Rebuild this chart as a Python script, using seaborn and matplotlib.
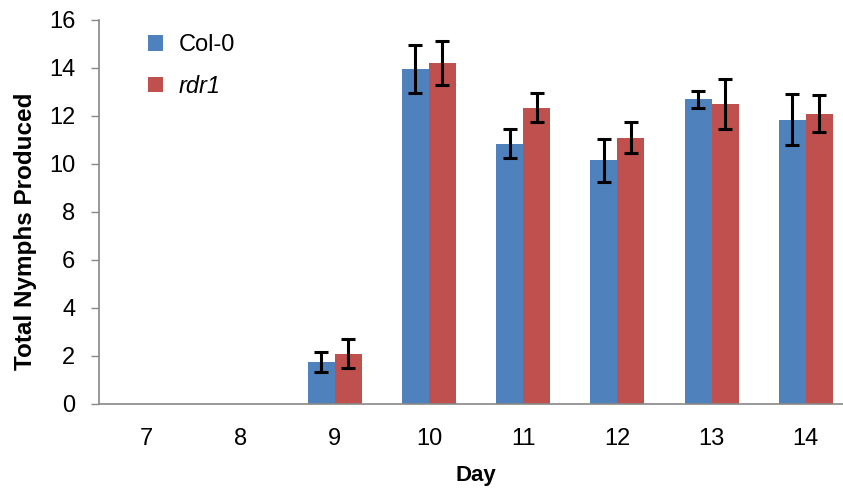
import matplotlib
matplotlib.use("Agg")
import matplotlib.pyplot as plt
import seaborn as sns
import pandas as pd
import numpy as np

days = ["7", "8", "9", "10", "11", "12", "13", "14"]
col0_mean = [0, 0, 1.75, 13.95, 10.85, 10.15, 12.7, 11.85]
col0_err = [0, 0, 0.42, 1.0, 0.6, 0.9, 0.35, 1.05]
rdr1_mean = [0, 0, 2.1, 14.2, 12.35, 11.1, 12.5, 12.1]
rdr1_err = [0, 0, 0.6, 0.92, 0.62, 0.65, 1.05, 0.78]
genotypes = ["Col-0", "rdr1"]
colors = ["#4F81BD", "#C0504D"]

df = pd.DataFrame({
    "Day": days * 2,
    "Nymphs": col0_mean + rdr1_mean,
    "Genotype": ["Col-0"] * len(days) + ["rdr1"] * len(days),
})

sns.set_style("white")
plt.rcParams["font.family"] = ["Liberation Sans", "DejaVu Sans"]
plt.rcParams["text.color"] = "black"
plt.rcParams["axes.labelcolor"] = "black"
plt.rcParams["xtick.color"] = "black"
plt.rcParams["ytick.color"] = "black"

fig = plt.figure(figsize=(8.43, 4.88), dpi=100)
# axis runs a little past the right edge, like the cropped original
ax = fig.add_axes([99 / 843, 84 / 488, 754 / 843, 384 / 488])

sns.barplot(data=df, x="Day", y="Nymphs", hue="Genotype", order=days,
            hue_order=genotypes, palette=colors, saturation=1, width=0.573,
            errorbar=None, linewidth=0, ax=ax)

# error bars on each bar, positioned from the drawn patches
for cont, errs in zip(ax.containers, [col0_err, rdr1_err]):
    xs = [p.get_x() + p.get_width() / 2 for p in cont.patches]
    hs = [p.get_height() for p in cont.patches]
    e = [v if h > 0 else np.nan for v, h in zip(errs, hs)]
    ax.errorbar(xs, hs, yerr=e, fmt="none", ecolor="black", elinewidth=2.2,
                capsize=5, capthick=2.2)

ax.set_ylim(0, 16)
ax.set_xlim(-0.5, 7.5)
ax.set_yticks(range(0, 17, 2))
ax.set_xticks(range(len(days)))
ax.set_xticks(np.arange(-0.5, 8, 1), minor=True)
ax.tick_params(axis="x", which="major", length=0, labelsize=17, pad=17)
ax.tick_params(axis="x", which="minor", length=7, color="#888888", width=1)
ax.tick_params(axis="y", length=6, color="#888888", width=1, labelsize=17,
               left=True, pad=11)

for s in ["top", "right"]:
    ax.spines[s].set_visible(False)
for s in ["left", "bottom"]:
    ax.spines[s].set_color("#888888")
    ax.spines[s].set_linewidth(1.2)

ax.set_xlabel("Day", fontsize=16, fontweight="bold", labelpad=11)
ax.set_ylabel("Total Nymphs Produced", fontsize=17.5, fontweight="bold")
ax.yaxis.set_label_coords(-62 / 754, 0.45)

leg = ax.legend(loc="upper left", bbox_to_anchor=(0.052, 0.987), frameon=False,
                fontsize=17, handlelength=0.64, handleheight=0.64,
                labelspacing=0.78, handletextpad=0.68, borderaxespad=0)
leg.get_texts()[1].set_fontstyle("italic")

fig.savefig("out.png", dpi=100)
